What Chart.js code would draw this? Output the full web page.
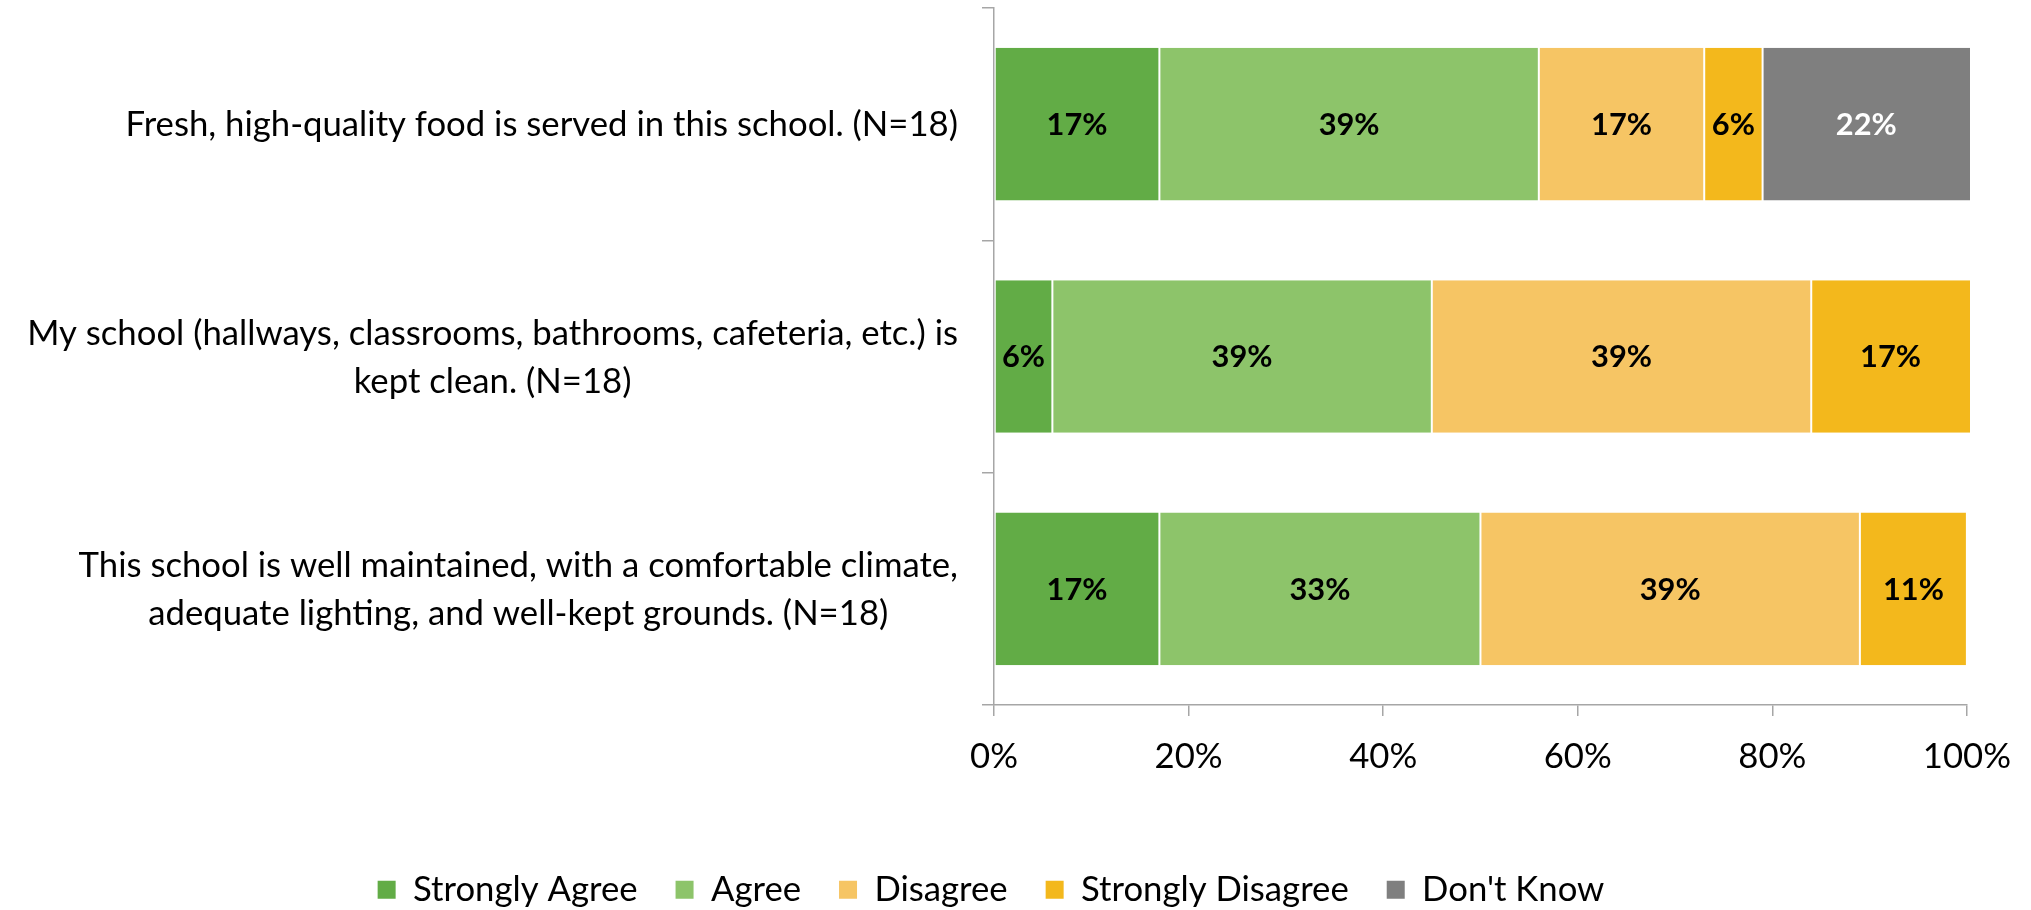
<!DOCTYPE html>
<html>
<head>
<meta charset="utf-8">
<script src="https://cdn.jsdelivr.net/npm/chart.js@4.4.1/dist/chart.umd.min.js"></script>
<style>
  html, body { margin: 0; padding: 0; background: #ffffff; }
  #c { display: block; }
</style>
</head>
<body>
<canvas id="c" width="2031" height="910" style="width:2031px;height:910px"></canvas>
<script>
// ---------------- DATA ----------------
const categories = [
  ["Fresh, high-quality food is served in this school. (N=18)"],
  ["My school (hallways, classrooms, bathrooms, cafeteria, etc.) is", "kept clean. (N=18)"],
  ["This school is well maintained, with a comfortable climate,", "adequate lighting, and well-kept grounds. (N=18)"]
];
const seriesNames = ["Strongly Agree", "Agree", "Disagree", "Strongly Disagree", "Don't Know"];
const stronglyAgree    = [17, 6, 17];
const agree            = [39, 39, 33];
const disagree         = [17, 39, 39];
const stronglyDisagree = [6, 17, 11];
const dontKnow         = [22, 0, 0];
const xTickValues = [0, 20, 40, 60, 80, 100];

// ---------------- STYLE ----------------
const seriesColors = ["#62AC46", "#8DC46A", "#F6C564", "#F3B81C", "#7F7F7F"];
const labelColors  = ["#000000", "#000000", "#000000", "#000000", "#FFFFFF"];
const FAMILY = "Lato, 'Open Sans', sans-serif";
const AXIS_COLOR = "#A6A6A6";

function fitSize(text, target, weight) {
  const ctx = document.createElement('canvas').getContext('2d');
  ctx.font = weight + " 100px " + FAMILY;
  return 100 * target / ctx.measureText(text).width;
}
const regSize  = fitSize(
  "Fresh, high-quality food is served in this school. (N=18)" +
  "My school (hallways, classrooms, bathrooms, cafeteria, etc.) is" +
  "This school is well maintained, with a comfortable climate,", 2640, "normal");
const boldSize = fitSize("17%", 61, "bold");

const LEGEND_PAD = 38;
const BOTTOM_PAD = -7;
const PLOT_BOTTOM = 705;
const legendHeight = Math.max(regSize, 18) + LEGEND_PAD + 10;
const xAxisHeight = 910 - BOTTOM_PAD - legendHeight - PLOT_BOTTOM;

const seriesData = [stronglyAgree, agree, disagree, stronglyDisagree, dontKnow];

const datasets = seriesNames.map((name, i) => ({
  label: name,
  data: seriesData[i],
  backgroundColor: seriesColors[i],
  borderColor: "#FFFFFF",
  borderWidth: { left: 1, right: 1, top: 0, bottom: 0 },
  borderSkipped: false,
  barPercentage: 0.657,
  categoryPercentage: 1.0,
  clip: { left: 0, top: 0, right: 3, bottom: 0 }
}));

const valueLabels = {
  id: 'valueLabels',
  afterDatasetsDraw(chart) {
    const ctx = chart.ctx;
    const area = chart.chartArea;
    ctx.save();
    ctx.font = "bold " + boldSize + "px " + FAMILY;
    ctx.textAlign = "center";
    ctx.textBaseline = "middle";
    chart.data.datasets.forEach((ds, di) => {
      const meta = chart.getDatasetMeta(di);
      meta.data.forEach((bar, i) => {
        const v = ds.data[i];
        if (!v) return;
        const p = bar.getProps(['x', 'y', 'base'], true);
        const right = Math.min(p.x, area.right + 3);
        ctx.fillStyle = labelColors[di];
        ctx.fillText(Math.round(v) + "%", (right + p.base) / 2, p.y + 1);
      });
    });
    ctx.restore();
  }
};

const categoryLabels = {
  id: 'categoryLabels',
  afterDraw(chart) {
    const ctx = chart.ctx;
    const yScale = chart.scales.y;
    ctx.save();
    ctx.font = regSize + "px " + FAMILY;
    ctx.fillStyle = "#000000";
    ctx.textAlign = "center";
    ctx.textBaseline = "middle";
    const rightEdge = chart.chartArea.left - 36;
    const lh = 48;
    chart.data.labels.forEach((lines, i) => {
      const yc = yScale.getPixelForTick(i);
      const w = Math.max(...lines.map(l => ctx.measureText(l).width));
      const cx = rightEdge - w / 2;
      lines.forEach((l, k) => {
        ctx.fillText(l, cx, yc + (k - (lines.length - 1) / 2) * lh + 1);
      });
    });
    ctx.restore();
  }
};

new Chart(document.getElementById('c'), {
  type: 'bar',
  data: { labels: categories, datasets },
  options: {
    indexAxis: 'y',
    responsive: false,
    devicePixelRatio: 1,
    animation: false,
    layout: { padding: { left: 14, right: 63, top: 8, bottom: BOTTOM_PAD } },
    scales: {
      x: {
        type: 'linear',
        stacked: true,
        min: 0,
        max: 100,
        afterBuildTicks: (s) => { s.ticks = xTickValues.map(v => ({ value: v })); },
        afterFit: (s) => { s.height = xAxisHeight; },
        ticks: {
          callback: (v) => v + "%",
          font: { family: FAMILY, size: regSize },
          color: "#000000",
          padding: 20,
          maxRotation: 0,
          autoSkip: false
        },
        grid: { drawOnChartArea: false, drawTicks: true, tickLength: 11, color: AXIS_COLOR, lineWidth: 1.5 },
        border: { display: true, color: AXIS_COLOR, width: 1.5 }
      },
      y: {
        type: 'category',
        stacked: true,
        offset: true,
        afterFit: (s) => { s.width = 980; },
        ticks: { display: false },
        grid: { offset: true, drawOnChartArea: false, drawTicks: true, tickLength: 12, color: AXIS_COLOR, lineWidth: 1.5 },
        border: { display: true, color: AXIS_COLOR, width: 1.5 }
      }
    },
    plugins: {
      tooltip: { enabled: false },
      title: { display: false },
      legend: {
        display: true,
        position: 'bottom',
        align: 'center',
        labels: {
          font: { family: FAMILY, size: regSize },
          color: "#000000",
          boxWidth: 18,
          boxHeight: 18,
          padding: LEGEND_PAD,
          generateLabels: (chart) => {
            const items = Chart.defaults.plugins.legend.labels.generateLabels(chart);
            items.forEach(it => { it.lineWidth = 0; it.strokeStyle = 'rgba(0,0,0,0)'; });
            return items;
          }
        }
      }
    }
  },
  plugins: [valueLabels, categoryLabels]
});
</script>
</body>
</html>
